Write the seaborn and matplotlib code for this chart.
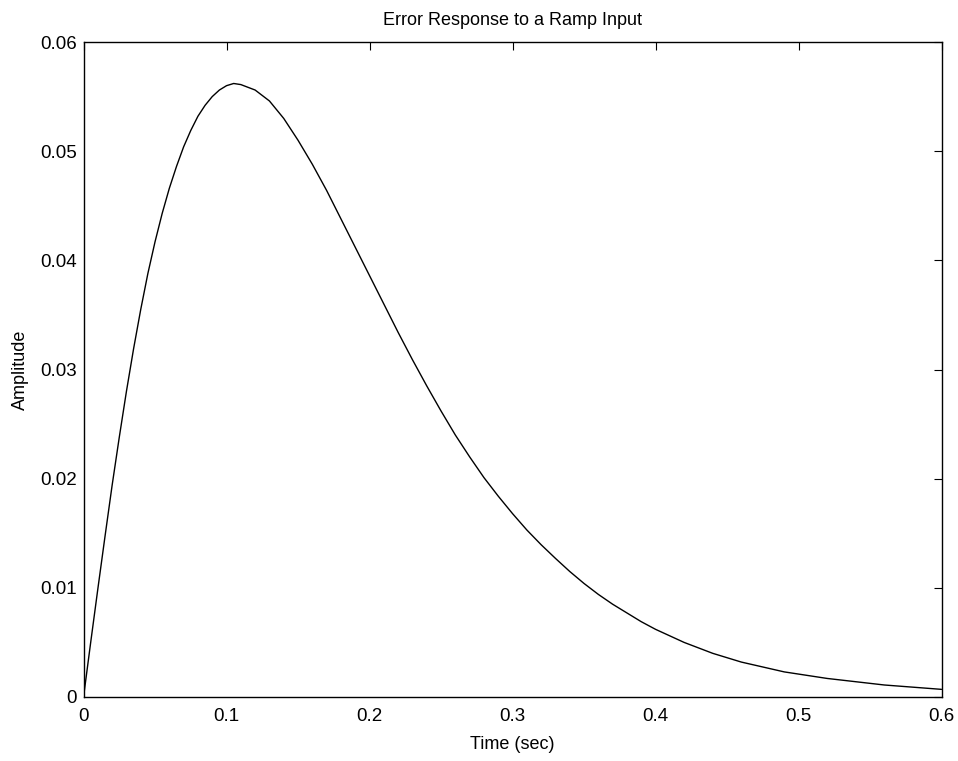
import matplotlib
matplotlib.use("Agg")
import matplotlib.pyplot as plt
import seaborn as sns

# values (time in sec, error amplitude)
time_sec = [0.0, 0.005, 0.01, 0.015, 0.02, 0.025, 0.03, 0.035, 0.04, 0.045,
            0.05, 0.055, 0.06, 0.065, 0.07, 0.075, 0.08, 0.085, 0.09, 0.095,
            0.10, 0.105, 0.11, 0.12, 0.13, 0.14, 0.15, 0.16, 0.17, 0.18,
            0.19, 0.20, 0.21, 0.22, 0.23, 0.24, 0.25, 0.26, 0.27, 0.28,
            0.29, 0.30, 0.31, 0.32, 0.33, 0.34, 0.35, 0.36, 0.37, 0.38,
            0.39, 0.40, 0.41, 0.42, 0.43, 0.44, 0.45, 0.46, 0.47, 0.48,
            0.49, 0.50, 0.52, 0.54, 0.56, 0.58, 0.60]
amplitude = [0.0, 0.0050, 0.0099, 0.0147, 0.0194, 0.0238, 0.0280, 0.0319, 0.0355, 0.0388,
             0.0417, 0.0443, 0.0466, 0.0486, 0.0504, 0.0519, 0.0532, 0.0542, 0.0550, 0.0556,
             0.0560, 0.0562, 0.0561, 0.0556, 0.0546, 0.0530, 0.0510, 0.0488, 0.0464, 0.0438,
             0.0412, 0.0386, 0.0360, 0.0334, 0.0309, 0.0285, 0.0262, 0.0240, 0.0220, 0.0201,
             0.0184, 0.0168, 0.0153, 0.01395, 0.0127, 0.0115, 0.0104, 0.0094, 0.0085, 0.0077,
             0.0069, 0.0062, 0.0056, 0.0050, 0.0045, 0.0040, 0.0036, 0.0032, 0.0029, 0.0026,
             0.0023, 0.0021, 0.0017, 0.0014, 0.0011, 0.0009, 0.0007]

x_ticks = [0, 0.1, 0.2, 0.3, 0.4, 0.5, 0.6]
x_tick_labels = ["0", "0.1", "0.2", "0.3", "0.4", "0.5", "0.6"]
y_ticks = [0, 0.01, 0.02, 0.03, 0.04, 0.05, 0.06]
y_tick_labels = ["0", "0.01", "0.02", "0.03", "0.04", "0.05", "0.06"]

sns.set_style("white")
plt.rcParams['font.family'] = ['Liberation Sans', 'DejaVu Sans']
plt.rcParams['text.color'] = 'black'
plt.rcParams['axes.labelcolor'] = 'black'

fig = plt.figure(figsize=(9.58, 7.61), dpi=100)
ax = fig.add_axes([0.0872, 0.0841, 0.8956, 0.8607])

sns.lineplot(x=time_sec, y=amplitude, color="black", linewidth=1.0, ax=ax)

ax.set_xlim(0, 0.6)
ax.set_ylim(0, 0.06)
ax.set_xticks(x_ticks)
ax.set_xticklabels(x_tick_labels)
ax.set_yticks(y_ticks)
ax.set_yticklabels(y_tick_labels)
ax.tick_params(direction="in", top=True, right=True, length=6, width=0.8,
               labelsize=13.5, colors="black")
ax.tick_params(axis="x", pad=8)
ax.tick_params(axis="y", pad=5)

for sp in ax.spines.values():
    sp.set_visible(True)
    sp.set_color("black")
    sp.set_linewidth(1.0)

ax.set_xlabel("Time (sec)", fontsize=13, labelpad=8)
ax.set_ylabel("Amplitude", fontsize=13, labelpad=8)
ax.set_title("Error Response to a Ramp Input", fontsize=13, pad=12, color="black")

plt.savefig("out.png", dpi=100)
